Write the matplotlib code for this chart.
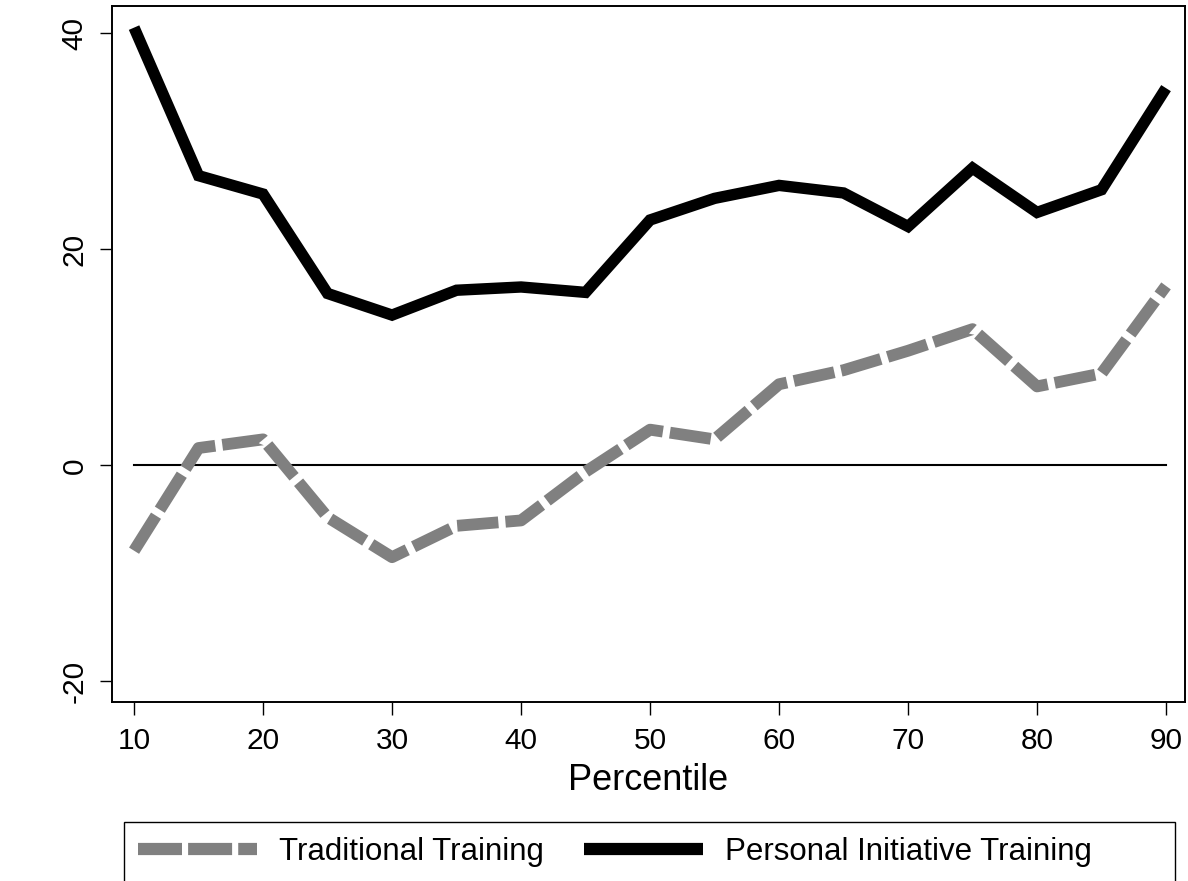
import matplotlib
matplotlib.use("Agg")
import matplotlib.pyplot as plt
from matplotlib.patches import Rectangle
from matplotlib.lines import Line2D

plt.rcParams['font.family'] = ['Liberation Sans', 'DejaVu Sans']
plt.rcParams['axes.unicode_minus'] = False

percentile = [10, 15, 20, 25, 30, 35, 40, 45, 50, 55, 60, 65, 70, 75, 80, 85, 90]
traditional = [-7.9, 1.6, 2.4, -4.8, -8.5, -5.6, -5.1, -0.6, 3.3, 2.4,
               7.5, 8.8, 10.6, 12.6, 7.3, 8.5, 16.6]
personal = [40.5, 26.8, 25.1, 15.9, 13.9, 16.2, 16.5, 16.0, 22.7, 24.7,
            25.9, 25.2, 22.1, 27.5, 23.4, 25.5, 34.9]
xticks = [10, 20, 30, 40, 50, 60, 70, 80, 90]
yticks = [-20, 0, 20, 40]

W, H = 1188, 881
fig = plt.figure(figsize=(W / 100, H / 100), dpi=100)
ax = fig.add_axes([112 / W, 1 - 702 / H, (1185 - 112) / W, (702 - 6) / H])

ax.plot([percentile[0], percentile[-1]], [0, 0], color='black', lw=1.5)
ax.plot(percentile, traditional, color='#808080', lw=8.5,
        dashes=(3.5, 0.6), dash_capstyle='butt', solid_joinstyle='miter')
ax.plot(percentile, personal, color='black', lw=8.2,
        solid_capstyle='butt', solid_joinstyle='miter')

ax.set_xlim(8.29, 91.47)
ax.set_ylim(-21.9, 42.5)
ax.set_xticks(xticks)
ax.set_yticks(yticks)
ax.tick_params(axis='both', length=9, width=1, labelsize=21.5, pad=8)
ax.tick_params(axis='x', pad=9)
for lab in ax.get_yticklabels():
    lab.set_rotation(90)
    lab.set_va('center')
for sp in ax.spines.values():
    sp.set_linewidth(1.4)

ax.set_xlabel('Percentile', fontsize=26, labelpad=6)

# legend frame, running off the bottom edge
fig.patches.append(Rectangle((124 / W, -0.05), (1175 - 124) / W, 0.05 + (881 - 822) / H,
                             transform=fig.transFigure, fill=False,
                             edgecolor='black', lw=1.0))
handles = [
    Line2D([], [], color='#808080', lw=8.8, dashes=(3.6, 0.5), dash_capstyle='butt'),
    Line2D([], [], color='black', lw=8.8, solid_capstyle='butt'),
]
fig.legend(handles, ['Traditional Training', 'Personal Initiative Training'],
           loc='center left', bbox_to_anchor=(138 / W, 1 - 852 / H), ncol=2,
           frameon=False, fontsize=22.5, handlelength=3.8, handletextpad=0.7,
           columnspacing=1.3, borderpad=0, borderaxespad=0)

fig.savefig('out.png', dpi=100)
